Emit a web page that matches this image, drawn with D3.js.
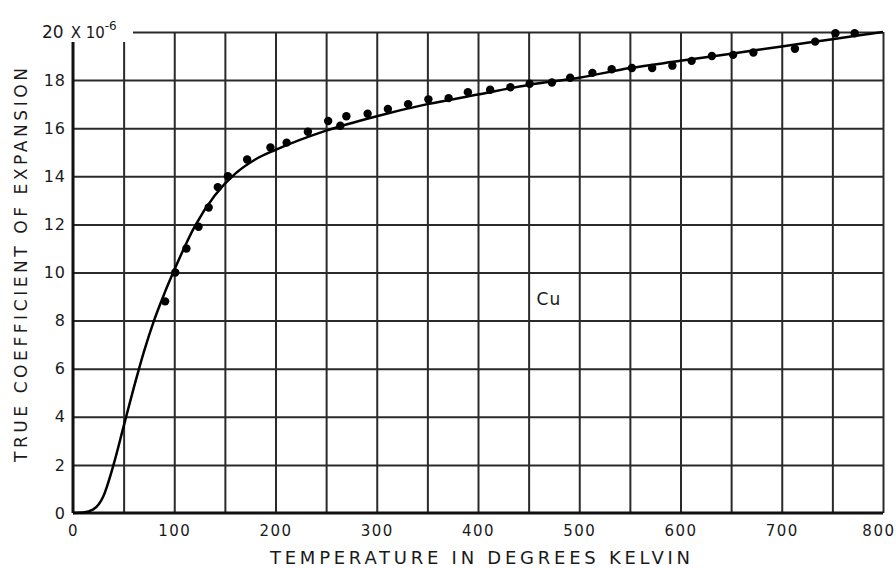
<!DOCTYPE html>
<html>
<head>
<meta charset="utf-8">
<script src="https://cdn.jsdelivr.net/npm/d3@7"></script>
<style>
	body { margin: 0; background: #fff; }
	svg { display: block; }
	text { font-family: "DejaVu Sans", sans-serif; fill: #1a1a1a; }
</style>
</head>
<body>
<script>
// smooth curve (temperature K, coefficient x10^-6)
const curveT = [0, 10, 20, 30, 40, 50, 60, 70, 80, 90, 100, 120, 140, 160, 180, 200, 250, 300, 350, 400, 450, 500, 550, 600, 650, 700, 750, 800];
const curveA = [0, 0.02, 0.15, 0.7, 2.0, 3.6, 5.2, 6.7, 8.0, 9.1, 10.1, 11.9, 13.2, 14.1, 14.7, 15.1, 15.9, 16.5, 17.0, 17.4, 17.8, 18.1, 18.5, 18.8, 19.1, 19.4, 19.7, 20.0];

// measured points
const pointT = [91, 101, 112, 124, 134, 143, 153, 172, 195, 211, 232, 252, 264, 270, 291, 311, 331, 351, 371, 390, 412, 432, 451, 473, 491, 513, 532, 552, 572, 592, 611, 631, 652, 672, 713, 733, 753, 772];
const pointA = [8.8, 10.0, 11.0, 11.9, 12.7, 13.55, 14.0, 14.7, 15.2, 15.4, 15.85, 16.3, 16.1, 16.5, 16.6, 16.8, 17.0, 17.2, 17.25, 17.5, 17.6, 17.7, 17.85, 17.9, 18.1, 18.3, 18.45, 18.5, 18.5, 18.6, 18.8, 19.0, 19.05, 19.15, 19.3, 19.6, 19.95, 19.95];

const xTicks = [0, 100, 200, 300, 400, 500, 600, 700, 800];
const xGrid = [50, 100, 150, 200, 250, 300, 350, 400, 450, 500, 550, 600, 650, 700, 750, 800];
const yTicks = [0, 2, 4, 6, 8, 10, 12, 14, 16, 18, 20];

const width = 896, height = 568;
const plotLeft = 73, plotRight = 883, plotTop = 32, plotBottom = 513;

const svg = d3.select("body").append("svg")
	.attr("width", width)
	.attr("height", height);

const x = d3.scaleLinear().domain([0, 800]).range([plotLeft, plotRight]);
const y = d3.scaleLinear().domain([0, 20]).range([plotBottom, plotTop]);

// grid
svg.append("g")
	.attr("transform", "translate(0," + plotBottom + ")")
	.call(d3.axisBottom(x).tickValues(xGrid).tickSize(-(plotBottom - plotTop)).tickFormat(""))
	.call((g) => g.select(".domain").remove())
	.selectAll("line")
	.attr("stroke", "#2a2a2a")
	.attr("stroke-width", 2);

svg.append("g")
	.attr("transform", "translate(" + plotLeft + ",0)")
	.call(d3.axisLeft(y).tickValues(yTicks.slice(1)).tickSize(-(plotRight - plotLeft)).tickFormat(""))
	.call((g) => g.select(".domain").remove())
	.selectAll("line")
	.attr("stroke", "#2a2a2a")
	.attr("stroke-width", 2);

// axis lines
svg.append("line")
	.attr("x1", x(0)).attr("x2", x(800))
	.attr("y1", y(0)).attr("y2", y(0))
	.attr("stroke", "#111").attr("stroke-width", 3);
svg.append("line")
	.attr("x1", x(0)).attr("x2", x(0))
	.attr("y1", y(0)).attr("y2", y(20))
	.attr("stroke", "#111").attr("stroke-width", 3);

// tick labels
let xAxis = svg.append("g")
	.attr("transform", "translate(0," + (plotBottom + 9) + ")")
	.call(d3.axisBottom(x).tickValues(xTicks).tickSize(0));
xAxis.select(".domain").remove();
xAxis.selectAll("text")
	.attr("font-family", "DejaVu Sans")
	.attr("font-size", 15)
	.attr("letter-spacing", 1.5)
	.attr("fill", "#1a1a1a");
// last label sits against the right edge
xAxis.selectAll(".tick")
	.filter((d) => d === 800)
	.select("text")
	.attr("text-anchor", "end")
	.attr("x", width - x(800) - 1);

let yAxis = svg.append("g")
	.attr("transform", "translate(" + (plotLeft - 4) + ",0)")
	.call(d3.axisLeft(y).tickValues(yTicks.slice(0, -1)).tickSize(0));
yAxis.select(".domain").remove();
yAxis.selectAll("text")
	.attr("font-family", "DejaVu Sans")
	.attr("font-size", 16)
	.attr("letter-spacing", 1)
	.attr("fill", "#1a1a1a");

// top-left scale label
svg.append("rect")
	.attr("x", 38).attr("y", 12)
	.attr("width", 95).attr("height", 30)
	.attr("fill", "#fff");
let lab = svg.append("text")
	.attr("x", 42).attr("y", y(20) + 6)
	.attr("font-size", 17);
lab.append("tspan").text("20");
lab.append("tspan").attr("dx", 7).attr("font-size", 15).text("X 10");
lab.append("tspan").attr("dy", -8).attr("font-size", 12).text("-6");

// curve
const line = d3.line()
	.x((d, i) => x(curveT[i]))
	.y((d, i) => y(curveA[i]))
	.curve(d3.curveMonotoneX);

svg.append("path")
	.attr("d", line(curveT))
	.attr("fill", "none")
	.attr("stroke", "#000")
	.attr("stroke-width", 2.5);

svg.selectAll("circle")
	.data(pointT)
	.enter()
	.append("circle")
	.attr("cx", (d) => x(d))
	.attr("cy", (d, i) => y(pointA[i]))
	.attr("r", 4.2)
	.attr("fill", "#000");

// Cu label
svg.append("text")
	.attr("x", x(470)).attr("y", y(8.65))
	.attr("text-anchor", "middle")
	.attr("font-size", 17)
	.attr("letter-spacing", 1)
	.text("Cu");

// axis titles
svg.append("text")
	.attr("x", 480).attr("y", 564)
	.attr("text-anchor", "middle")
	.attr("font-size", 18)
	.attr("textLength", 420)
	.attr("lengthAdjust", "spacing")
	.text("TEMPERATURE IN DEGREES KELVIN");

svg.append("text")
	.attr("transform", "translate(27,265) rotate(-90)")
	.attr("text-anchor", "middle")
	.attr("font-size", 17)
	.attr("textLength", 394)
	.attr("lengthAdjust", "spacing")
	.text("TRUE COEFFICIENT OF EXPANSION");
</script>
</body>
</html>
